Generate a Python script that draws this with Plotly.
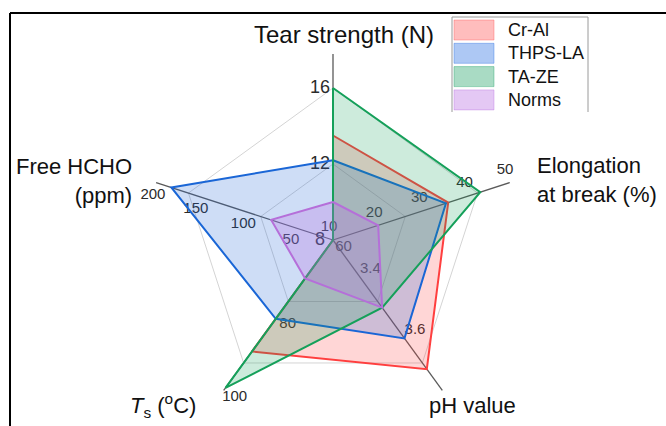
import math
import plotly.graph_objects as go

W, H = 666, 426

# Radar axes: clockwise from the top, each with its own scale
axis_angles = [90, 18, -54, -126, 162]
axis_min = [8, 10, 3.28, 60, 10]
axis_max = [18, 50, 3.78, 100, 200]

series_names = ["Cr-Al", "THPS-LA", "TA-ZE", "Norms"]
cr_al = [13.5, 35.5, 3.7, 89, 0]
thps_la = [12.2, 35.0, 3.6, 80.5, 180]
ta_ze = [16.0, 42.6, 3.5, 98.5, 0]
norms = [10.0, 20.0, 3.5, 70, 75]

tear_ticks = [8, 12, 16]
elong_ticks = [10, 20, 30, 40, 50]
ph_ticks = [3.4, 3.6]
ts_ticks = [60, 80, 100]
hcho_ticks = [50, 100, 150, 200]
ring_levels = [12, 16]  # grid rings follow the tear-strength ticks

line_colors = ["#ff3f3f", "#1a66d6", "#15a05a", "#b56fd9"]
fill_colors = ["rgba(255,60,60,0.21)", "rgba(30,100,215,0.22)",
               "rgba(20,160,90,0.21)", "rgba(185,110,225,0.28)"]
swatch_colors = ["rgba(255,90,90,0.40)", "rgba(40,110,225,0.38)",
                 "rgba(30,160,100,0.38)", "rgba(185,110,225,0.38)"]

FULL_PX = 190.0     # pixel length of each axis
R_PX = 186.0        # radius of the polar area
CX, CY = 333, 240   # centre of the radar (pixels from top-left)
R_MAX = R_PX / FULL_PX


def norm(i, v):
    f = (v - axis_min[i]) / (axis_max[i] - axis_min[i])
    return min(max(f, 0.0), 1.0)


def px(x):
    return x / W


def py(y):
    return 1 - y / H


fig = go.Figure()

# grid rings
for lvl in ring_levels:
    f = norm(0, lvl)
    fig.add_trace(go.Scatterpolar(
        r=[f] * 6, theta=axis_angles + [axis_angles[0]], mode="lines",
        line=dict(color="#d4d4d4", width=1), hoverinfo="skip"))

# axis spokes
for ang in axis_angles:
    fig.add_trace(go.Scatterpolar(
        r=[0, 1], theta=[ang, ang], mode="lines",
        line=dict(color="#5a5a5a", width=1.3), hoverinfo="skip"))

# tick labels, set beside each axis (kept inside the polar range)
tick_sets = [tear_ticks, elong_ticks, ph_ticks, ts_ticks, hcho_ticks]
d = 13.0 / FULL_PX
f_cap = math.sqrt((R_MAX - 0.002) ** 2 - d ** 2)
lab_r, lab_t, lab_txt, lab_sz = [], [], [], []
for i, ticks in enumerate(tick_sets):
    for t in ticks:
        f = min(norm(i, t), f_cap)
        lab_r.append(math.hypot(f, d))
        lab_t.append(axis_angles[i] + math.degrees(math.atan2(d, f)))
        lab_txt.append(f"{t:.1f}" if i == 2 else f"{t:g}")
        lab_sz.append(18 if i == 0 else 15)
fig.add_trace(go.Scatterpolar(
    r=lab_r, theta=lab_t, text=lab_txt, mode="text", cliponaxis=False,
    textfont=dict(size=lab_sz, color="#2b2b2b",
                  family="Arial, Liberation Sans, sans-serif"),
    hoverinfo="skip"))

# data polygons
for name, vals, lc, fc in zip(series_names, [cr_al, thps_la, ta_ze, norms],
                              line_colors, fill_colors):
    r = [norm(i, v) for i, v in enumerate(vals)]
    fig.add_trace(go.Scatterpolar(
        r=r + [r[0]], theta=axis_angles + [axis_angles[0]], mode="lines",
        fill="toself", fillcolor=fc, line=dict(color=lc, width=2),
        name=name))

shapes = []
# frame (top and left edges)
shapes.append(dict(type="line", xref="paper", yref="paper",
                   x0=px(10), y0=py(13), x1=px(666), y1=py(13),
                   line=dict(color="black", width=2)))
shapes.append(dict(type="line", xref="paper", yref="paper",
                   x0=px(10), y0=py(13), x1=px(10), y1=py(426),
                   line=dict(color="black", width=2)))
# legend box
lx0, lx1, ly0, ly1 = 452, 588, 17, 112
shapes.append(dict(type="path", xref="paper", yref="paper",
                   path=f"M{px(lx0)},{py(ly1)} L{px(lx0)},{py(ly0)} "
                        f"L{px(lx1)},{py(ly0)} L{px(lx1)},{py(ly1)}",
                   line=dict(color="#9a9a9a", width=1)))

annotations = []
for k, (name, sc) in enumerate(zip(series_names, swatch_colors)):
    yc = 30 + k * 23.3
    shapes.append(dict(type="rect", xref="paper", yref="paper",
                       x0=px(454), x1=px(494), y0=py(yc - 10), y1=py(yc + 10),
                       fillcolor=sc, line=dict(color=sc, width=1)))
    annotations.append(dict(x=px(506), y=py(yc), xref="paper", yref="paper",
                            text=name, showarrow=False, xanchor="left",
                            yanchor="middle",
                            font=dict(size=18, color="#111111")))

title_font = dict(size=22, color="#111111",
                  family="Arial, Liberation Sans, sans-serif")
axis_titles = [
    ("Tear strength (N)", 344, 35, "center", "center", 24),
    ("Elongation<br>at break (%)", 535, 180, "left", "left", 22),
    ("Free HCHO<br>(ppm)", 134, 181, "right", "right", 22),
    ("<i>T</i><sub>s</sub> (<sup>o</sup>C)", 163, 405, "center", "center", 22),
    ("pH value", 472, 405, "center", "center", 22),
]
for txt, x, y, xa, al, sz in axis_titles:
    annotations.append(dict(x=px(x), y=py(y), xref="paper", yref="paper",
                            text=txt, showarrow=False, xanchor=xa,
                            yanchor="middle", align=al,
                            font=dict(title_font, size=sz)))

fig.update_layout(
    width=W, height=H,
    margin=dict(l=0, r=0, t=0, b=0),
    paper_bgcolor="white",
    showlegend=False,
    font=dict(family="Arial, Liberation Sans, sans-serif"),
    polar=dict(
        domain=dict(x=[px(CX - R_PX), px(CX + R_PX)],
                    y=[py(CY + R_PX), py(CY - R_PX)]),
        bgcolor="rgba(0,0,0,0)",
        radialaxis=dict(visible=False, range=[0, R_MAX]),
        angularaxis=dict(visible=False, thetaunit="degrees",
                         direction="counterclockwise", rotation=0),
    ),
    shapes=shapes,
    annotations=annotations,
)

fig.write_html("out.html")
